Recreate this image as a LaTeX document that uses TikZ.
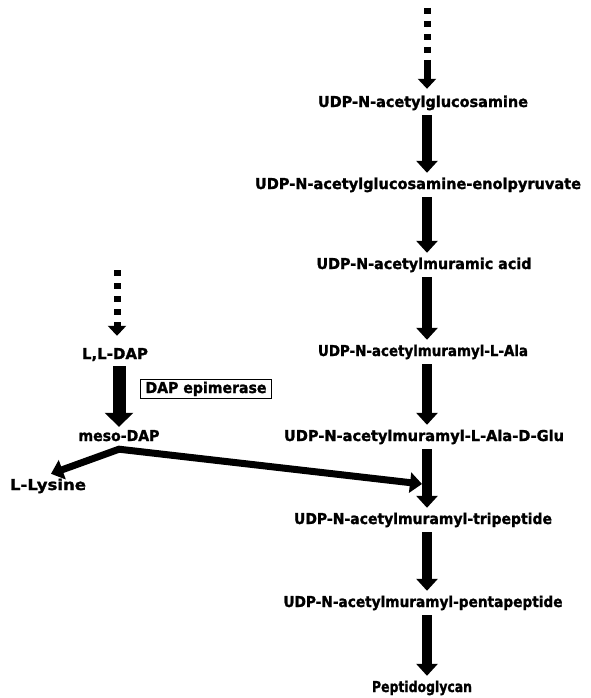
\documentclass[tikz,border=0pt]{standalone}
\usepackage{fontspec}
\setmainfont{DejaVu Sans}
\newfontfamily\lblfont{DejaVu Sans Bold}[FakeBold=1.5]
\usetikzlibrary{arrows.meta}
\newcommand\fitto[2]{\resizebox{#1}{\height}{#2}}
\tikzset{
  lbl/.style={inner sep=0pt, text height=11pt, text depth=3pt, font=\fontsize{15}{17}\lblfont},
  bigarrow/.style={line width=10pt, -{Triangle[width=21pt,length=12pt]}, shorten <=5pt, shorten >=5pt},
  fatarrow/.style={line width=13pt, -{Triangle[width=28pt,length=14pt]}},
  dotline/.style={line width=7pt, dash pattern=on 6pt off 7pt},
  tiparrow/.style={line width=7pt, -{Triangle[width=18pt,length=10pt]}},
  branch/.style={line width=7pt, line join=miter, {Triangle[width=20pt,length=12pt]}-{Triangle[width=20pt,length=12pt]}},
  enzyme/.style={draw, line width=1.2pt, inner xsep=5pt, inner ysep=2.5pt, text height=11pt, text depth=3pt, font=\fontsize{15}{17}\lblfont}
}
\begin{document}
\begin{tikzpicture}[x=1pt,y=-1pt]
\useasboundingbox (0,0) rectangle (590,698);
\coordinate (col) at (427,0);
% main column
\node[lbl] (n1) at (423,103) {\fitto{210pt}{UDP-N-acetylglucosamine}};
\node[lbl] (n2) at (418,185) {\fitto{326pt}{UDP-N-acetylglucosamine-enolpyruvate}};
\node[lbl] (n3) at (424,265) {\fitto{215pt}{UDP-N-acetylmuramic acid}};
\node[lbl] (n4) at (423,352) {\fitto{210pt}{UDP-N-acetylmuramyl-L-Ala}};
\node[lbl] (n5) at (424,437) {\fitto{280pt}{UDP-N-acetylmuramyl-L-Ala-D-Glu}};
\node[lbl] (n6) at (423,520) {\fitto{258pt}{UDP-N-acetylmuramyl-tripeptide}};
\node[lbl] (n7) at (423,603) {\fitto{279pt}{UDP-N-acetylmuramyl-pentapeptide}};
\node[lbl] (n8) at (422,688) {\fitto{100pt}{Peptidoglycan}};
% left column
\node[lbl] (ll) at (115,355) {\fitto{66pt}{L,L-DAP}};
\node[lbl] (meso) at (119,437) {\fitto{81pt}{meso-DAP}};
\node[lbl] (lys) at (48,486) {\fitto{76pt}{L-Lysine}};
\node[enzyme] (ep) at (206,389) {\fitto{121pt}{DAP epimerase}};
% top dotted arrows
\coordinate (t1) at (427,8);
\coordinate (t1e) at (427,62);
\draw[dotline] (t1) -- (t1e);
\draw[tiparrow, shorten >=7pt] (t1e) -- (n1.north -| col);
\coordinate (t2) at (117,270);
\coordinate (t2e) at (117,324);
\draw[dotline] (t2) -- (t2e);
\draw[tiparrow, shorten >=12pt] (t2e) -- (ll.north -| t2);
% main arrows
\draw[bigarrow] (n1.south -| col) -- (n2.north -| col);
\draw[bigarrow] (n2.south -| col) -- (n3.north -| col);
\draw[bigarrow] (n3.south -| col) -- (n4.north -| col);
\draw[bigarrow] (n4.south -| col) -- (n5.north -| col);
\draw[bigarrow] (n5.south -| col) -- (n6.north -| col);
\draw[bigarrow] (n6.south -| col) -- (n7.north -| col);
\draw[bigarrow] (n7.south -| col) -- (n8.north -| col);
% epimerase arrow
\draw[fatarrow, shorten <=4pt, shorten >=3pt] (ll.south -| meso) -- (meso.north);
% branch
\coordinate (br) at ([yshift=-5pt]meso.south);
\coordinate (lt) at ([xshift=3pt,yshift=5pt]lys.north);
\coordinate (j) at (422,484);
\draw[branch] (lt) -- (br) -- (j);
\end{tikzpicture}
\end{document}
